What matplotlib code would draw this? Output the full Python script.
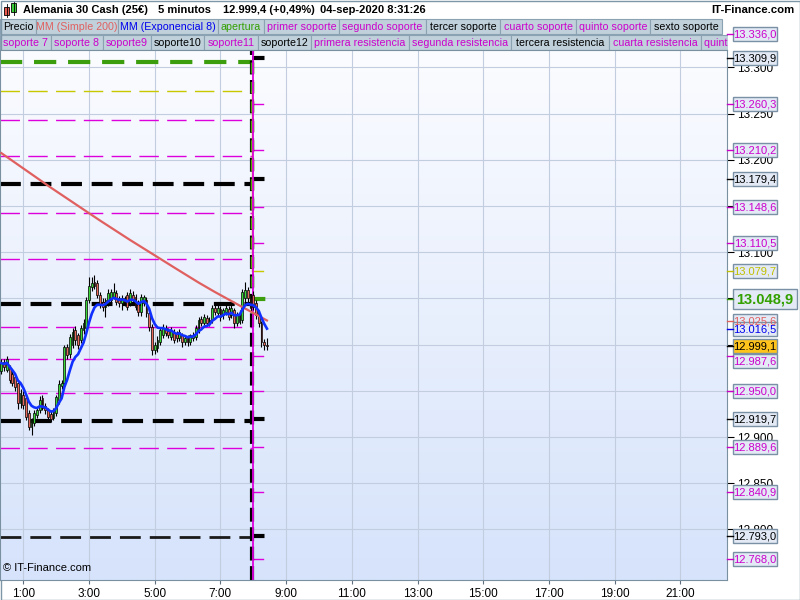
import numpy as np
import matplotlib
matplotlib.use('Agg')
import matplotlib.pyplot as plt
from matplotlib.patches import Rectangle
from matplotlib.colors import LinearSegmentedColormap

plt.rcParams['font.family'] = ['Liberation Sans', 'DejaVu Sans']
plt.rcParams['lines.scale_dashes'] = False

# ---------------- datos ----------------
INICIO = 20   # primera vela a las 0:20 (minutos)
PASO = 5      # velas de 5 minutos

aperturas = [12972, 12981, 12973, 12975, 12968, 12965, 12958, 12937, 12946, 12942,
             12926, 12911, 12915, 12924, 12929, 12942, 12934, 12929, 12925, 12921,
             12926, 12940, 12955, 12959, 12997, 12990, 13000, 13016, 13010, 13005,
             13016, 13018, 13048, 13062, 13068, 13067, 13054, 13046, 13041, 13045,
             13048, 13052, 13056, 13050, 13045, 13050, 13054, 13045, 13054, 13052,
             13045, 13035, 13045, 13048, 13034, 13019, 12994, 12996, 13003, 13010,
             13018, 13015, 13008, 13014, 13012, 13007, 13010, 13003, 13008, 13003,
             13007, 13008, 13016, 13028, 13024, 13029, 13023, 13027, 13040, 13034,
             13039, 13032, 13035, 13039, 13032, 13037, 13023, 13025, 13027, 13050,
             13059, 13050, 13054, 13045, 13034, 13023, 13003, 13000]
maximos = [12985, 12984, 12988, 12978, 12972, 12968, 12960, 12952, 12950, 12945,
           12929, 12921, 12929, 12933, 12944, 12946, 12937, 12932, 12928, 12932,
           12946, 12962, 12962, 13000, 13001, 13012, 13018, 13020, 13013, 13021,
           13028, 13052, 13073, 13073, 13075, 13070, 13057, 13050, 13051, 13060,
           13060, 13067, 13059, 13053, 13054, 13053, 13057, 13060, 13058, 13055,
           13048, 13055, 13054, 13052, 13037, 13022, 13003, 13009, 13019, 13022,
           13021, 13018, 13019, 13017, 13015, 13017, 13013, 13010, 13011, 13012,
           13014, 13021, 13030, 13031, 13033, 13032, 13030, 13043, 13043, 13046,
           13042, 13040, 13043, 13042, 13043, 13040, 13035, 13037, 13060, 13068,
           13062, 13054, 13058, 13048, 13037, 13026, 13006, 13007]
minimos = [12968, 12972, 12970, 12958, 12955, 12950, 12930, 12932, 12930, 12918,
           12908, 12902, 12912, 12921, 12926, 12929, 12925, 12918, 12916, 12918,
           12923, 12936, 12952, 12955, 12985, 12986, 12996, 13000, 12995, 13002,
           13012, 13015, 13045, 13058, 13060, 13050, 13040, 13036, 13030, 13042,
           13045, 13049, 13043, 13041, 13037, 13042, 13037, 13042, 13045, 13037,
           13031, 13031, 13042, 13030, 13015, 12989, 12990, 12992, 13000, 13007,
           13009, 13007, 13005, 13002, 13003, 13004, 12997, 13000, 12999, 13000,
           13004, 13005, 13013, 13020, 13021, 13020, 13020, 13024, 13032, 13031,
           13026, 13028, 13032, 13027, 13029, 13018, 13020, 13022, 13024, 13046,
           13046, 13036, 13038, 13028, 13019, 12998, 12994, 12994]
cierres = [12980, 12976, 12985, 12962, 12959, 12954, 12937, 12948, 12935, 12922,
           12911, 12918, 12926, 12929, 12940, 12932, 12929, 12922, 12920, 12929,
           12943, 12957, 12959, 12997, 12989, 13008, 13014, 13005, 13000, 13018,
           13024, 13048, 13064, 13067, 13064, 13054, 13043, 13041, 13048, 13056,
           13057, 13057, 13046, 13045, 13050, 13046, 13041, 13056, 13048, 13041,
           13035, 13052, 13052, 13034, 13019, 12994, 13000, 13005, 13016, 13018,
           13013, 13010, 13016, 13005, 13007, 13014, 13003, 13007, 13003, 13010,
           13011, 13018, 13027, 13023, 13030, 13023, 13027, 13040, 13035, 13040,
           13030, 13037, 13040, 13030, 13040, 13023, 13032, 13034, 13057, 13059,
           13050, 13040, 13041, 13032, 13023, 13003, 13000, 12999.1]

mm200_vela = [0, 18, 36, 47, 58, 64, 72, 78, 86, 92, 97]
mm200_valor = [13207.3, 13170.1, 13134.4, 13113.3, 13093.0, 13081.9, 13067.3,
               13057.0, 13044.0, 13034.3, 13026.2]

# niveles del dia anterior (hasta las 8:00) y niveles de hoy
niveles_ant = [13305.6, 13274.2, 13242.9, 13203.9, 13173.6, 13142.2, 13092.4,
               13043.7, 13018.8, 12984.2, 12947.4, 12917.1, 12888.2, 12792.2]
tipos_ant = ['apertura', 'amarillo', 'rosa', 'rosa', 'negro', 'rosa', 'rosa',
             'negro', 'rosa', 'rosa', 'rosa', 'negro', 'rosa', 'gris']
niveles_hoy = [13336.0, 13309.9, 13260.3, 13210.2, 13179.4, 13148.6, 13110.5, 13079.7,
               13048.9, 12987.6, 12950.0, 12919.7, 12889.6, 12840.9, 12793.0, 12768.0]
tipos_hoy = ['rosa', 'negro', 'rosa', 'rosa', 'negro', 'rosa', 'rosa', 'amarillo',
             'apertura', 'rosa', 'rosa', 'negro', 'rosa', 'rosa', 'negro', 'rosa']

# etiquetas extra del eje de precios
extra_valor = [13025.6, 13016.5, 12999.1]
extra_tipo = ['mm200', 'mme8', 'precio']

# marcas del eje de precios que se ven en el original
marcas_y = [12800, 12850, 12900, 13100, 13200, 13250, 13300]
lineas_y = np.arange(12800, 13301, 50)

titulo = ['Alemania 30 Cash (25€)', '5 minutos', '12.999,4 (+0,49%)', '04-sep-2020 8:31:26']
leyenda1 = ['Precio', 'MM (Simple 200)', 'MM (Exponencial 8)', 'apertura', 'primer soporte',
            'segundo soporte', 'tercer soporte', 'cuarto soporte', 'quinto soporte', 'sexto soporte']
tipos1 = ['negro', 'mm200', 'mme8', 'apertura', 'rosa', 'rosa', 'negro', 'rosa', 'rosa', 'negro']
leyenda2 = ['soporte 7', 'soporte 8', 'soporte9', 'soporte10', 'soporte11', 'soporte12',
            'primera resistencia', 'segunda resistencia', 'tercera resistencia',
            'cuarta resistencia', 'quinta resistencia']
tipos2 = ['rosa', 'rosa', 'rosa', 'negro', 'rosa', 'negro', 'rosa', 'rosa', 'negro', 'rosa', 'rosa']

# ---------------- estilos ----------------
ROSA = '#dd00dd'
estilo = {
    'apertura': dict(color='#3c9e0c', lw=3.0, dashes=(16, 8.5)),
    'negro': dict(color='black', lw=3.0, dashes=(15, 7)),
    'gris': dict(color='#1a1a1a', lw=2.0, dashes=(15, 6.5)),
    'rosa': dict(color=ROSA, lw=1.0, dashes=(14, 6)),
    'amarillo': dict(color='#c8c800', lw=1.0, dashes=(14, 6)),
}
color_texto = {'rosa': '#cc00cc', 'negro': 'black', 'gris': 'black', 'amarillo': '#c0c000',
               'apertura': '#33a000', 'mm200': '#e06060', 'mme8': '#0000ee', 'precio': 'black'}

def fmt(v):
    return f'{v:,.1f}'.replace(',', ' ').replace('.', ',').replace(' ', '.')

tiempos = (INICIO + PASO * np.arange(len(cierres))) / 60.0
o = np.array(aperturas, float)
h = np.array(maximos, float)
l = np.array(minimos, float)
c = np.array(cierres, float)

ema = [c[0]]
for v in c[1:]:
    ema.append(ema[-1] + 2 / 9 * (v - ema[-1]))

fig = plt.figure(figsize=(8, 6), dpi=100)

# fondo en pixeles
fondo = fig.add_axes([0, 0, 1, 1], zorder=0)
fondo.axis('off')
fondo.add_patch(Rectangle((0, 0), 800, 600, facecolor='white', edgecolor='none'))
cab = LinearSegmentedColormap.from_list('cab', ['#c4dde7', '#a7c5d3'])
fondo.imshow(np.linspace(0, 1, 32).reshape(-1, 1), extent=[0, 800, 18, 0], cmap=cab, aspect='auto')
fondo.set_xlim(0, 800)
fondo.set_ylim(600, 0)

# icono
fondo.add_patch(Rectangle((4, 7), 5, 8, facecolor='#e85a50', edgecolor='black', lw=0.6))
fondo.plot([6.5, 6.5], [4, 17], color='black', lw=0.6)
fondo.add_patch(Rectangle((11, 3), 5, 9, facecolor='#39d039', edgecolor='black', lw=0.6))
fondo.plot([13.5, 13.5], [1, 15], color='black', lw=0.6)

for txt, x in zip(titulo, [23, 158, 223, 320]):
    fondo.text(x, 10, txt, fontsize=8.0, fontweight='bold', va='center', ha='left')
fondo.text(794, 10, 'IT-Finance.com', fontsize=8.2, fontweight='bold', va='center', ha='right')

bordes1 = [0, 36, 118, 218, 264, 339, 426, 500, 576, 650, 722]
bordes2 = [0, 51, 103, 151, 204, 258, 311, 409, 511, 609, 701, 780]
filas = [(19, bordes1, leyenda1, tipos1), (35, bordes2, leyenda2, tipos2)]
for fila, bordes, textos, tipos in filas:
    for i in range(len(textos)):
        x0, x1 = bordes[i], bordes[i + 1]
        fondo.add_patch(Rectangle((x0, fila), x1 - x0, 15, facecolor='#c0d1db',
                                  edgecolor='#8aa2b2', lw=0.8))
for fila, bordes, textos, tipos in filas:
    for i, txt in enumerate(textos):
        x0, x1 = bordes[i], bordes[i + 1]
        if x1 > 727:
            fondo.text(x0 + 3, fila + 7.8, txt, fontsize=7.7, color=color_texto[tipos[i]],
                       va='center', ha='left')
        else:
            fondo.text((x0 + x1) / 2, fila + 7.8, txt, fontsize=7.7, color=color_texto[tipos[i]],
                       va='center', ha='center')
fondo.add_patch(Rectangle((727.5, 18.5), 73, 33, facecolor='white', edgecolor='none', zorder=5))
fondo.add_patch(Rectangle((0.5, 0.5), 799, 599, facecolor='none', edgecolor='#7d97a8', lw=1, zorder=6))

# grafico principal
ax = fig.add_axes([0, 20 / 600, 727 / 800, 530 / 600], zorder=1)
grad = LinearSegmentedColormap.from_list('g', ['#d6e3fb', '#fbfcff'])
ax.imshow(np.linspace(0, 1, 256).reshape(-1, 1), extent=[0, 1, 0, 1], transform=ax.transAxes,
          cmap=grad, aspect='auto', origin='lower', zorder=-1)
XMIN, XMAX = 0.291, 22.42
YMIN, YMAX = 12745.35, 13318.9

frontera = 8 - 2.5 / 60
fin = tiempos[-1] + 2.5 / 60

for v, t in zip(niveles_ant, tipos_ant):
    e = estilo[t]
    ax.plot([XMIN, frontera], [v, v], color=e['color'], lw=e['lw'], dashes=e['dashes'], zorder=2)
for v, t in zip(niveles_hoy, tipos_hoy):
    e = estilo[t]
    ax.plot([frontera, fin], [v, v], color=e['color'], lw=e['lw'],
            dashes=(e['dashes'][0] * 0.6, e['dashes'][1] * 0.6), zorder=2)

ax.plot([frontera, frontera], [YMIN, YMAX], color='black', lw=3, dashes=(10, 4), zorder=2)
ax.plot([frontera, frontera], [niveles_ant[0], niveles_hoy[8]], color='#3c9e0c', lw=2.5,
        dashes=(8, 6), zorder=2)
ax.plot([frontera, frontera], [niveles_ant[1], niveles_hoy[7]], color='#c8c800', lw=1, zorder=2)
ax.plot([frontera + 0.02, frontera + 0.02], [YMIN, YMAX], color=ROSA, lw=1.3, zorder=2)

# velas
colores = np.where(c >= o, '#3ad63a', '#e8695a')
ax.vlines(tiempos, l, h, color='black', lw=0.8, zorder=3)
ax.bar(tiempos, np.maximum(np.abs(c - o), 0.8), bottom=np.minimum(o, c), width=0.055,
       color=colores, edgecolor='black', lw=0.5, zorder=4)

ax.plot(tiempos[mm200_vela], mm200_valor, color='#e06060', lw=1.6, zorder=5)
ax.plot(tiempos, ema, color='#1030ff', lw=1.9, zorder=6)

ax.set_xlim(XMIN, XMAX)
ax.set_ylim(YMIN, YMAX)
ax.set_xticks(range(1, 22, 2))
ax.set_xticklabels([f'{x}:00' for x in range(1, 22, 2)])
ax.yaxis.tick_right()
ax.set_yticks(lineas_y)
ax.set_yticklabels([f'{v:,.0f}'.replace(',', '.') if v in marcas_y else '' for v in lineas_y])
ax.tick_params(axis='x', direction='out', length=3, pad=3, labelsize=8.5, color='#607080')
ax.tick_params(axis='y', direction='out', length=5, pad=2, labelsize=8.5, color='black')
ax.grid(True, color='#c3cde0', lw=0.8)
ax.set_axisbelow(True)
for s in ax.spines.values():
    s.set_color('#7890a0')
ax.text(0.004, 0.013, '© IT-Finance.com', transform=ax.transAxes, fontsize=8, va='bottom', zorder=7)

# etiquetas del eje de precios
capa = fig.add_axes([0, 0, 1, 1], zorder=2)
capa.set_xlim(0, 800)
capa.set_ylim(600, 0)
capa.axis('off')
capa.patch.set_alpha(0)

def ypx(v):
    return 600 - ax.transData.transform((1, v))[1]

etiquetas = sorted(zip(niveles_hoy + extra_valor, tipos_hoy + extra_tipo), key=lambda p: -p[0])
precio = extra_valor[2]
fondo_precio = ypx(precio) + 7
for v, t in etiquetas:
    y = ypx(v)
    col = color_texto[t]
    capa.plot([727, 733], [y, y], color=col if t != 'precio' else 'black', lw=1, clip_on=False)
    if t == 'apertura':
        alto, ancho, fs, fw = 20, 64, 10.5, 'bold'
    else:
        alto, ancho, fs, fw = 14, 44, 8, 'normal'
    yc = y
    if v < precio and yc - alto / 2 < fondo_precio + 1:
        yc = fondo_precio + 1 + alto / 2
    cara = '#ffc41c' if t == 'precio' else '#e3eaf5'
    capa.add_patch(Rectangle((733, yc - alto / 2), ancho, alto, facecolor=cara,
                             edgecolor='#7a90a4', lw=1, clip_on=False))
    capa.text(733 + ancho / 2, yc + 0.5, fmt(v), fontsize=fs, fontweight=fw, color=col,
              ha='center', va='center', clip_on=False)

fig.savefig('out.png', dpi=100)
